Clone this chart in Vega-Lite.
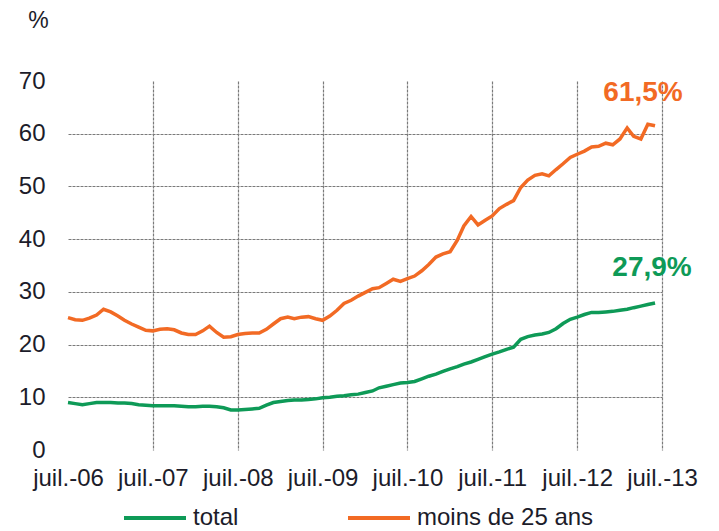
{
  "$schema": "https://vega.github.io/schema/vega-lite/v6.json",
  "width": 594,
  "height": 369,
  "autosize": "none",
  "padding": {"left": 68, "top": 81, "right": 57, "bottom": 81},
  "background": "white",
  "config": {
    "view": {"stroke": null},
    "font": "Liberation Sans"
  },
  "datasets": {
    "series": [
      {"date": "2006/07/01", "total": 9.0, "moins de 25 ans": 25.1},
      {"date": "2006/08/01", "total": 8.8, "moins de 25 ans": 24.7},
      {"date": "2006/09/01", "total": 8.6, "moins de 25 ans": 24.6},
      {"date": "2006/10/01", "total": 8.8, "moins de 25 ans": 25.0},
      {"date": "2006/11/01", "total": 9.0, "moins de 25 ans": 25.6},
      {"date": "2006/12/01", "total": 9.0, "moins de 25 ans": 26.7},
      {"date": "2007/01/01", "total": 9.0, "moins de 25 ans": 26.2},
      {"date": "2007/02/01", "total": 8.9, "moins de 25 ans": 25.4},
      {"date": "2007/03/01", "total": 8.9, "moins de 25 ans": 24.6},
      {"date": "2007/04/01", "total": 8.8, "moins de 25 ans": 23.9},
      {"date": "2007/05/01", "total": 8.6, "moins de 25 ans": 23.3},
      {"date": "2007/06/01", "total": 8.5, "moins de 25 ans": 22.7},
      {"date": "2007/07/01", "total": 8.4, "moins de 25 ans": 22.6},
      {"date": "2007/08/01", "total": 8.4, "moins de 25 ans": 22.9},
      {"date": "2007/09/01", "total": 8.4, "moins de 25 ans": 23.0},
      {"date": "2007/10/01", "total": 8.4, "moins de 25 ans": 22.8},
      {"date": "2007/11/01", "total": 8.3, "moins de 25 ans": 22.2},
      {"date": "2007/12/01", "total": 8.2, "moins de 25 ans": 21.9},
      {"date": "2008/01/01", "total": 8.2, "moins de 25 ans": 21.9},
      {"date": "2008/02/01", "total": 8.3, "moins de 25 ans": 22.6},
      {"date": "2008/03/01", "total": 8.3, "moins de 25 ans": 23.5},
      {"date": "2008/04/01", "total": 8.2, "moins de 25 ans": 22.3},
      {"date": "2008/05/01", "total": 8.0, "moins de 25 ans": 21.4},
      {"date": "2008/06/01", "total": 7.6, "moins de 25 ans": 21.5},
      {"date": "2008/07/01", "total": 7.6, "moins de 25 ans": 21.9},
      {"date": "2008/08/01", "total": 7.7, "moins de 25 ans": 22.1},
      {"date": "2008/09/01", "total": 7.8, "moins de 25 ans": 22.2},
      {"date": "2008/10/01", "total": 7.9, "moins de 25 ans": 22.2},
      {"date": "2008/11/01", "total": 8.5, "moins de 25 ans": 22.9},
      {"date": "2008/12/01", "total": 9.0, "moins de 25 ans": 23.9},
      {"date": "2009/01/01", "total": 9.2, "moins de 25 ans": 24.9},
      {"date": "2009/02/01", "total": 9.4, "moins de 25 ans": 25.2},
      {"date": "2009/03/01", "total": 9.5, "moins de 25 ans": 24.9},
      {"date": "2009/04/01", "total": 9.5, "moins de 25 ans": 25.2},
      {"date": "2009/05/01", "total": 9.6, "moins de 25 ans": 25.3},
      {"date": "2009/06/01", "total": 9.7, "moins de 25 ans": 24.9},
      {"date": "2009/07/01", "total": 9.9, "moins de 25 ans": 24.6},
      {"date": "2009/08/01", "total": 10.0, "moins de 25 ans": 25.4},
      {"date": "2009/09/01", "total": 10.2, "moins de 25 ans": 26.5},
      {"date": "2009/10/01", "total": 10.3, "moins de 25 ans": 27.8},
      {"date": "2009/11/01", "total": 10.5, "moins de 25 ans": 28.4},
      {"date": "2009/12/01", "total": 10.6, "moins de 25 ans": 29.2},
      {"date": "2010/01/01", "total": 10.9, "moins de 25 ans": 29.9},
      {"date": "2010/02/01", "total": 11.2, "moins de 25 ans": 30.6},
      {"date": "2010/03/01", "total": 11.8, "moins de 25 ans": 30.8},
      {"date": "2010/04/01", "total": 12.1, "moins de 25 ans": 31.6},
      {"date": "2010/05/01", "total": 12.4, "moins de 25 ans": 32.4},
      {"date": "2010/06/01", "total": 12.7, "moins de 25 ans": 32.0},
      {"date": "2010/07/01", "total": 12.8, "moins de 25 ans": 32.5},
      {"date": "2010/08/01", "total": 13.0, "moins de 25 ans": 33.0},
      {"date": "2010/09/01", "total": 13.5, "moins de 25 ans": 34.0},
      {"date": "2010/10/01", "total": 14.0, "moins de 25 ans": 35.2},
      {"date": "2010/11/01", "total": 14.4, "moins de 25 ans": 36.6},
      {"date": "2010/12/01", "total": 14.9, "moins de 25 ans": 37.2},
      {"date": "2011/01/01", "total": 15.4, "moins de 25 ans": 37.6},
      {"date": "2011/02/01", "total": 15.8, "moins de 25 ans": 39.8},
      {"date": "2011/03/01", "total": 16.3, "moins de 25 ans": 42.5},
      {"date": "2011/04/01", "total": 16.7, "moins de 25 ans": 44.3},
      {"date": "2011/05/01", "total": 17.2, "moins de 25 ans": 42.7},
      {"date": "2011/06/01", "total": 17.7, "moins de 25 ans": 43.6},
      {"date": "2011/07/01", "total": 18.2, "moins de 25 ans": 44.4},
      {"date": "2011/08/01", "total": 18.6, "moins de 25 ans": 45.8},
      {"date": "2011/09/01", "total": 19.1, "moins de 25 ans": 46.6},
      {"date": "2011/10/01", "total": 19.5, "moins de 25 ans": 47.3},
      {"date": "2011/11/01", "total": 21.0, "moins de 25 ans": 49.8},
      {"date": "2011/12/01", "total": 21.5, "moins de 25 ans": 51.2},
      {"date": "2012/01/01", "total": 21.8, "moins de 25 ans": 52.1},
      {"date": "2012/02/01", "total": 22.0, "moins de 25 ans": 52.4},
      {"date": "2012/03/01", "total": 22.3, "moins de 25 ans": 52.0},
      {"date": "2012/04/01", "total": 23.0, "moins de 25 ans": 53.2},
      {"date": "2012/05/01", "total": 24.0, "moins de 25 ans": 54.3},
      {"date": "2012/06/01", "total": 24.8, "moins de 25 ans": 55.5},
      {"date": "2012/07/01", "total": 25.2, "moins de 25 ans": 56.1},
      {"date": "2012/08/01", "total": 25.7, "moins de 25 ans": 56.7},
      {"date": "2012/09/01", "total": 26.1, "moins de 25 ans": 57.5},
      {"date": "2012/10/01", "total": 26.1, "moins de 25 ans": 57.6},
      {"date": "2012/11/01", "total": 26.2, "moins de 25 ans": 58.2},
      {"date": "2012/12/01", "total": 26.3, "moins de 25 ans": 57.9},
      {"date": "2013/01/01", "total": 26.5, "moins de 25 ans": 59.0},
      {"date": "2013/02/01", "total": 26.7, "moins de 25 ans": 61.1},
      {"date": "2013/03/01", "total": 27.0, "moins de 25 ans": 59.5},
      {"date": "2013/04/01", "total": 27.3, "moins de 25 ans": 59.0},
      {"date": "2013/05/01", "total": 27.6, "moins de 25 ans": 61.8},
      {"date": "2013/06/01", "total": 27.9, "moins de 25 ans": 61.5}
    ]
  },
  "layer": [
    {
      "data": {"name": "series"},
      "transform": [{"fold": ["total", "moins de 25 ans"], "as": ["series", "value"]}],
      "mark": {"type": "line", "strokeWidth": 3.5, "interpolate": "linear"},
      "encoding": {
        "x": {
          "field": "date", "type": "temporal",
          "scale": {"domain": [{"year": 2006, "month": 7, "date": 1}, {"year": 2013, "month": 7, "date": 1}]},
          "axis": {
            "title": null,
            "values": [
              {"year": 2006, "month": 7, "date": 1},
              {"year": 2007, "month": 7, "date": 1},
              {"year": 2008, "month": 7, "date": 1},
              {"year": 2009, "month": 7, "date": 1},
              {"year": 2010, "month": 7, "date": 1},
              {"year": 2011, "month": 7, "date": 1},
              {"year": 2012, "month": 7, "date": 1},
              {"year": 2013, "month": 7, "date": 1}
            ],
            "labelExpr": "'juil.-' + timeFormat(datum.value, '%y')",
            "labelFontSize": 24,
            "labelColor": "#1c1c2a",
            "labelPadding": 16,
            "labelFlush": false,
            "labelOverlap": false,
            "domain": false,
            "ticks": false,
            "grid": true,
            "gridColor": "#7a7a7a",
            "gridDash": [3, 1],
            "gridWidth": 1.2,
            "gridOpacity": {"condition": {"test": "year(datum.value) == 2006", "value": 0}, "value": 1}
          }
        },
        "y": {
          "field": "value", "type": "quantitative",
          "scale": {"domain": [0, 70], "nice": false},
          "axis": {
            "title": "%",
            "titleAngle": 0,
            "titleAlign": "center",
            "titleBaseline": "middle",
            "titleX": -30,
            "titleY": -61,
            "titleFontSize": 23,
            "titleFontWeight": "normal",
            "titleColor": "#1c1c2a",
            "values": [0, 10, 20, 30, 40, 50, 60, 70],
            "labelFontSize": 24,
            "labelColor": "#1c1c2a",
            "labelPadding": 23,
            "domain": false,
            "ticks": false,
            "grid": true,
            "gridColor": "#7a7a7a",
            "gridDash": [3, 1],
            "gridWidth": 1.2,
            "gridOpacity": {"condition": {"test": "datum.value == 0 || datum.value == 70", "value": 0}, "value": 1}
          }
        },
        "color": {
          "field": "series", "type": "nominal",
          "scale": {"domain": ["total", "moins de 25 ans"], "range": ["#0E9A57", "#F26A24"]},
          "legend": {
            "title": null,
            "orient": "none",
            "legendX": 54,
            "legendY": 404,
            "direction": "horizontal",
            "symbolType": "stroke",
            "symbolSize": 3844,
            "symbolStrokeWidth": 4,
            "labelFontSize": 24,
            "labelColor": "#1c1c2a",
            "labelLimit": 400,
            "labelOffset": 5,
            "columnPadding": 101,
            "padding": 0
          }
        }
      }
    },
    {
      "data": {"values": [{"date": "2013/06/01", "value": 61.5, "label": "61,5%", "series": "moins de 25 ans"}]},
      "mark": {"type": "text", "fontSize": 28, "fontWeight": "bold", "align": "center", "baseline": "middle", "dx": -12, "dy": -33},
      "encoding": {
        "x": {"field": "date", "type": "temporal"},
        "y": {"field": "value", "type": "quantitative"},
        "text": {"field": "label"},
        "color": {"field": "series", "type": "nominal", "legend": null}
      }
    },
    {
      "data": {"values": [{"date": "2013/06/01", "value": 27.9, "label": "27,9%", "series": "total"}]},
      "mark": {"type": "text", "fontSize": 28, "fontWeight": "bold", "align": "center", "baseline": "middle", "dx": -3, "dy": -35},
      "encoding": {
        "x": {"field": "date", "type": "temporal"},
        "y": {"field": "value", "type": "quantitative"},
        "text": {"field": "label"},
        "color": {"field": "series", "type": "nominal", "legend": null}
      }
    }
  ]
}
